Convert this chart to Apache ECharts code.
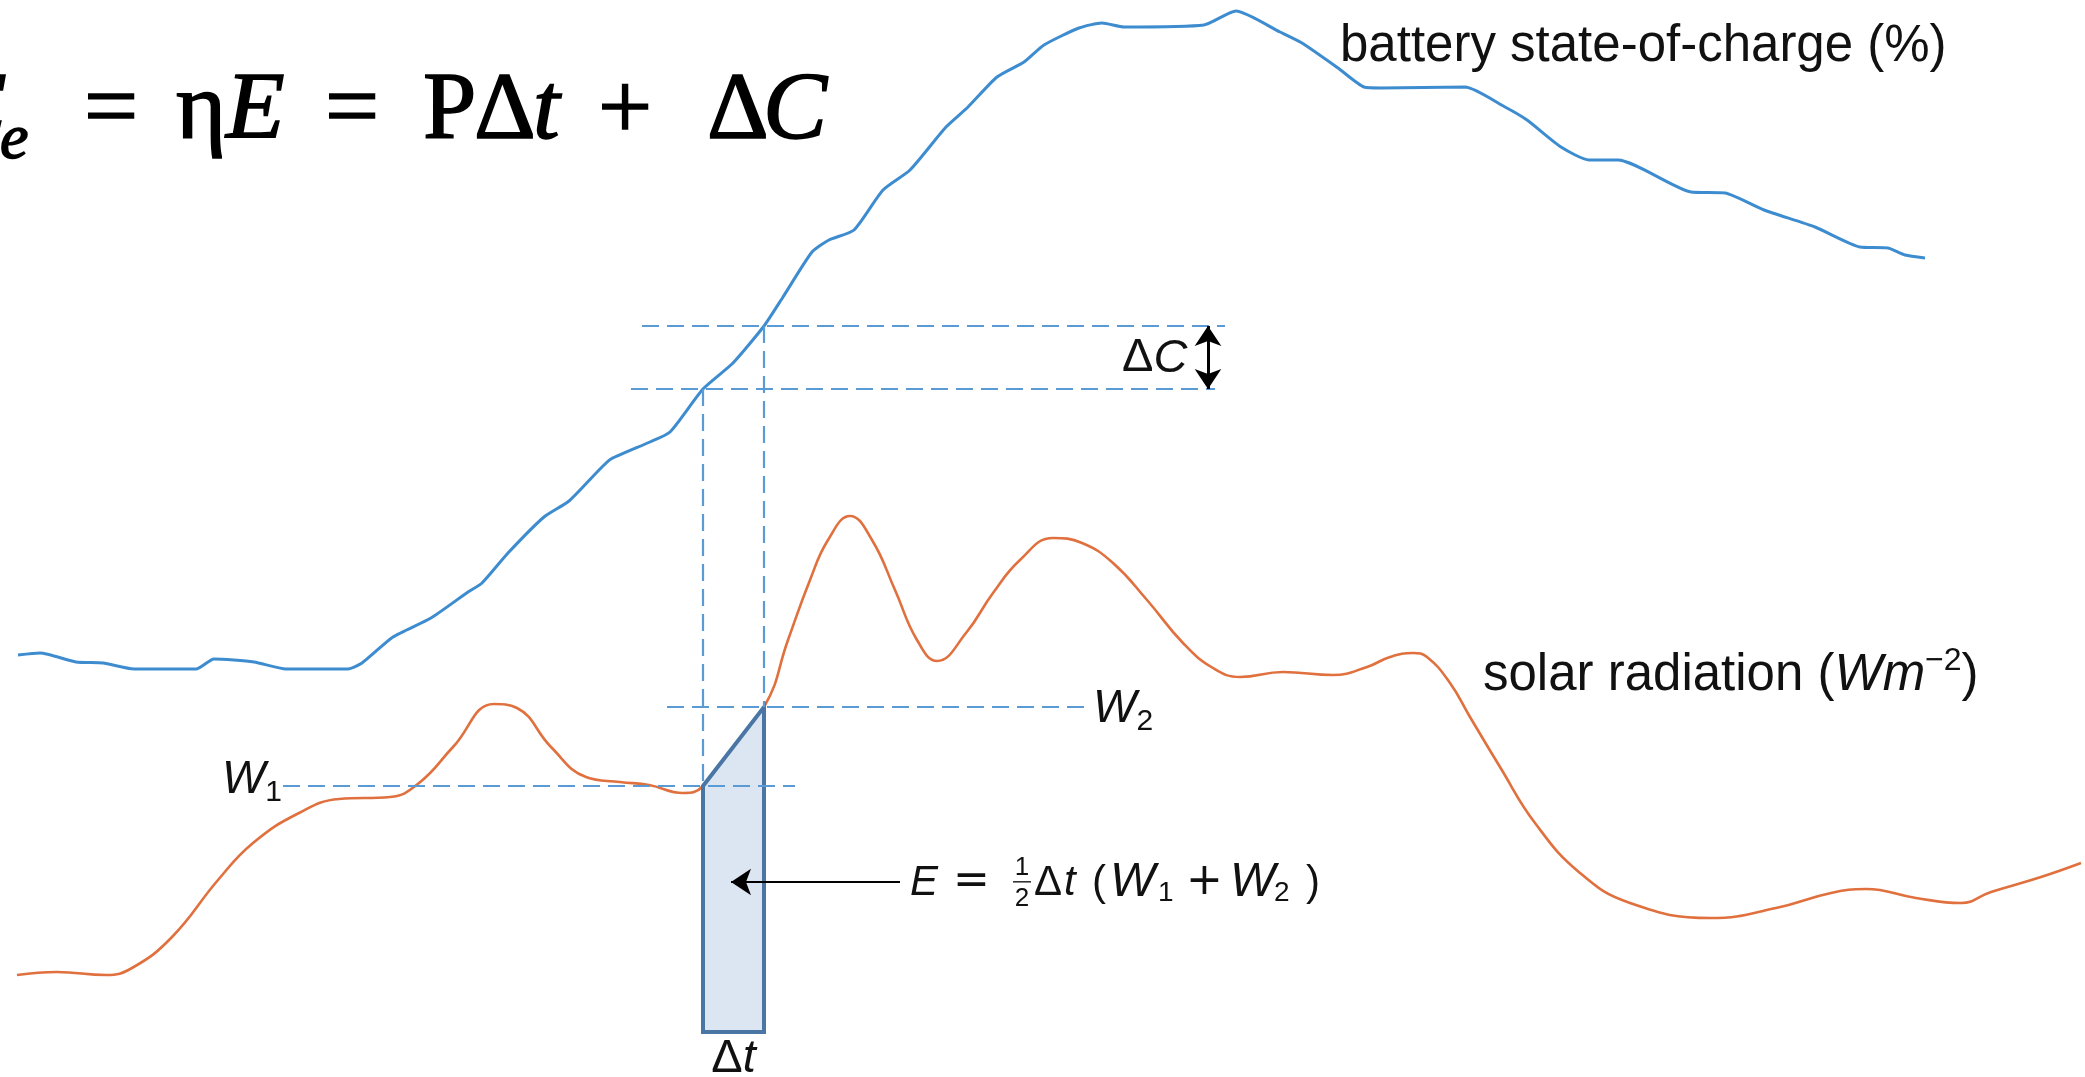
<!DOCTYPE html>
<html>
<head>
<meta charset="utf-8">
<title>Battery state-of-charge and solar radiation</title>
<script src="https://cdn.jsdelivr.net/npm/echarts/dist/echarts.min.js"></script>
<style>
  html, body { margin: 0; padding: 0; background: #ffffff; }
  #chart { width: 2085px; height: 1077px; }
</style>
</head>
<body>
<div id="chart"></div>
<script>
// ---- Data (time in arbitrary steps, level in arbitrary units) ----
const socTime = [18, 40, 76, 103, 134, 196, 214, 254, 286, 348, 362, 393, 431, 468, 482, 508, 544, 569, 600, 611,
  650, 670, 703, 733, 764, 783, 812, 829, 854, 883, 910, 946, 968, 997, 1024, 1044, 1079, 1102, 1124, 1204,
  1236, 1280, 1302, 1338, 1364, 1381, 1465, 1505, 1527, 1561, 1589, 1618, 1691, 1725, 1764, 1815, 1860, 1888, 1905, 1925];
const socLevel = [422, 424, 415, 414, 408, 408, 418, 415, 408, 408, 414, 440, 459, 485, 494, 524, 560, 576, 608, 618,
  635, 645, 688, 714, 751, 780, 825, 837, 847, 887, 907, 950, 970, 1000, 1015, 1032, 1049, 1054, 1050, 1052,
  1066, 1045, 1034, 1009, 990, 989, 990, 970, 957, 930, 917, 917, 885, 884, 867, 850, 830, 829, 822, 819];

const solarTime = [17, 57, 106, 132, 172, 218, 253, 299, 339, 390, 419, 453, 494, 517, 551, 586, 620, 649, 683, 703,
  764, 788, 810, 828, 850, 872, 895, 917, 937, 966, 993, 1020, 1053, 1082, 1113, 1147, 1183,
  1213, 1240, 1283, 1333, 1367, 1390, 1413, 1427, 1450, 1470, 1500, 1535, 1580, 1630, 1711, 1776, 1831, 1866, 1916, 1961,
  1991, 2041, 2081];
const solarLevel = [102, 105, 102, 109, 140, 197, 234, 264, 278, 280, 294, 330, 373, 369, 330, 300, 295, 292, 284, 291,
  370, 437, 497, 537, 561, 537, 487, 437, 416, 444, 484, 517, 539, 534, 514, 477, 434,
  409, 400, 405, 402, 410, 420, 424, 420, 394, 360, 310, 254, 204, 174, 159, 169, 184, 188, 179, 174,
  185, 200, 214];

// Integration step [t1, t2] and the floor of the energy trapezoid
const stepStart = 703;
const stepEnd = 764;
const energyFloor = 45;

// Readings taken from the curves at both ends of the step
const W1 = solarLevel[solarTime.indexOf(stepStart)];
const W2 = solarLevel[solarTime.indexOf(stepEnd)];
const C1 = socLevel[socTime.indexOf(stepStart)];
const C2 = socLevel[socTime.indexOf(stepEnd)];

// ---- Annotation layout ----
const w1GuideSpan = [283, 795];
const w2GuideSpan = [667, 1089];
const c1GuideSpan = [631, 1215];
const c2GuideSpan = [642, 1225];
const energyArrow = { from: 900, to: 731, level: 195 };
const deltaCArrowTime = 1208;

const zip = (xs, ys) => xs.map((x, i) => [x, ys[i]]);

const SANS = '"Liberation Sans", Arial, sans-serif';
const OPS = '"DejaVu Sans", "Liberation Sans", sans-serif';
const SERIF = '"Liberation Serif", "Times New Roman", serif';
const GUIDE = '#5B9BD5';

const chart = echarts.init(document.getElementById('chart'), null, { renderer: 'canvas' });

chart.setOption({
  animation: false,
  backgroundColor: '#ffffff',
  grid: { left: 0, right: 0, top: 0, bottom: 0 },
  xAxis: { type: 'value', min: 0, max: 2085, show: false },
  yAxis: { type: 'value', min: 0, max: 1077, show: false },
  series: [
    {
      name: 'battery state-of-charge',
      type: 'line',
      data: zip(socTime, socLevel),
      symbol: 'none',
      smooth: 0.2,
      lineStyle: { color: '#3D8CCF', width: 3 },
      z: 2
    },
    {
      name: 'solar radiation',
      type: 'line',
      data: zip(solarTime, solarLevel),
      symbol: 'none',
      smooth: 0.45,
      lineStyle: { color: '#E0703E', width: 2.6 },
      z: 2
    },
    {
      // energy collected over the step (trapezoid rule)
      name: 'energy',
      type: 'custom',
      clip: false,
      data: [[stepStart, W1]],
      renderItem: function (params, api) {
        const pts = [
          api.coord([stepStart, W1]),
          api.coord([stepEnd, W2]),
          api.coord([stepEnd, energyFloor]),
          api.coord([stepStart, energyFloor])
        ];
        return {
          type: 'polygon',
          shape: { points: pts },
          style: { fill: '#DCE6F2', stroke: '#4A76A6', lineWidth: 4, lineJoin: 'miter' }
        };
      },
      z: 3
    },
    {
      name: 'guides',
      type: 'lines',
      coordinateSystem: 'cartesian2d',
      symbol: 'none',
      lineStyle: { color: GUIDE, width: 2.2, type: [17, 8], opacity: 1 },
      data: [
        { coords: [[w1GuideSpan[0], W1], [w1GuideSpan[1], W1]] },
        { coords: [[w2GuideSpan[0], W2], [w2GuideSpan[1], W2]] },
        { coords: [[c1GuideSpan[0], C1], [c1GuideSpan[1], C1]] },
        { coords: [[c2GuideSpan[0], C2], [c2GuideSpan[1], C2]] },
        { coords: [[stepStart, C1], [stepStart, W1]] },
        { coords: [[stepEnd, C2], [stepEnd, W2]] }
      ],
      z: 4
    },
    {
      name: 'energy arrow',
      type: 'lines',
      coordinateSystem: 'cartesian2d',
      symbol: ['none', 'arrow'],
      symbolSize: 20,
      lineStyle: { color: '#000000', width: 2, opacity: 1 },
      data: [{ coords: [[energyArrow.from, energyArrow.level], [energyArrow.to, energyArrow.level]] }],
      z: 5
    },
    {
      name: 'charge arrow',
      type: 'lines',
      coordinateSystem: 'cartesian2d',
      symbol: ['arrow', 'arrow'],
      symbolSize: 20,
      lineStyle: { color: '#000000', width: 3, opacity: 1 },
      data: [{ coords: [[deltaCArrowTime, C2], [deltaCArrowTime, C1]] }],
      z: 5
    }
  ]
});

// ---- Text annotations ----
const px = (x, y) => chart.convertToPixel({ gridIndex: 0 }, [x, y]);

function txt(x, y, text, font, align, extra) {
  return {
    type: 'text', x: x, y: y, z: 10,
    style: Object.assign({ text: text, font: font, fill: '#111111', align: align || 'left', verticalAlign: 'middle' }, extra || {})
  };
}

const graphics = [];

// Series labels
graphics.push(txt(1340, 47, 'battery state-of-charge (%)', '51px ' + SANS));
graphics.push({
  type: 'text', x: 1483, y: 676, z: 10,
  style: {
    text: '{n|solar radiation (}{i|Wm}{s|\u22122}{n|)}',
    verticalAlign: 'middle', fill: '#111111',
    rich: {
      n: { fontSize: 51, fontFamily: SANS, lineHeight: 62 },
      i: { fontSize: 51, fontFamily: SANS, fontStyle: 'italic', lineHeight: 62 },
      s: { fontSize: 32, fontFamily: SANS, verticalAlign: 'top', lineHeight: 36 }
    }
  }
});

// W1 / W2 guide labels
const w1At = px(w1GuideSpan[0], W1);
const w2At = px(w2GuideSpan[1], W2);
const wRich = {
  w: { fontSize: 46, fontFamily: SANS, fontStyle: 'italic', lineHeight: 56 },
  s: { fontSize: 30, fontFamily: SANS, verticalAlign: 'bottom', lineHeight: 30 }
};
graphics.push({ type: 'text', x: w1At[0] - 1, y: w1At[1] - 6, z: 10,
  style: { text: '{w|W}{s|1}', align: 'right', verticalAlign: 'middle', fill: '#111111', rich: wRich } });
graphics.push({ type: 'text', x: w2At[0] + 4, y: w2At[1] + 2, z: 10,
  style: { text: '{w|W}{s|2}', align: 'left', verticalAlign: 'middle', fill: '#111111', rich: wRich } });

// Delta C beside the double arrow
const cMid = px(deltaCArrowTime, (C1 + C2) / 2);
graphics.push({ type: 'text', x: cMid[0] - 86, y: cMid[1] + 1, z: 10,
  style: { text: '{d|\u0394}{i|C}', verticalAlign: 'middle', fill: '#111111',
    rich: { d: { fontSize: 47, fontFamily: SANS }, i: { fontSize: 47, fontFamily: SANS, fontStyle: 'italic' } } } });

// Delta t under the step
const tMid = px((stepStart + stepEnd) / 2, energyFloor);
graphics.push({ type: 'text', x: tMid[0], y: tMid[1] + 27, z: 10,
  style: { text: '{d|\u0394}{i|t}', align: 'center', verticalAlign: 'middle', fill: '#111111',
    rich: { d: { fontSize: 47, fontFamily: SANS }, i: { fontSize: 47, fontFamily: SANS, fontStyle: 'italic' } } } });

// Energy formula at the tail of the arrow: E = 1/2 dt (W1 + W2)
const eAt = px(energyArrow.from, energyArrow.level);
const fx = eAt[0] + 12, fy = eAt[1] + 1;
const formulaFonts = {
  it: 'italic 42px ' + SANS,
  itW: 'italic 48px ' + SANS,
  up: '42px ' + SANS,
  op: '44px ' + OPS,
  sub: '28px ' + SANS
};
const formulaPieces = [
  ['E', -2, 'it'], ['=', 41, 'op'], ['\u0394', 122, 'up'], ['t', 152, 'it'], ['(', 180, 'up'],
  ['W', 198, 'itW'], ['1', 246, 'sub'], ['+', 274, 'op'], ['W', 318, 'itW'], ['2', 362, 'sub'], [')', 394, 'up']
];
formulaPieces.forEach(function (p) {
  const dy = p[2] === 'sub' ? 10 : 0;
  graphics.push(txt(fx + p[1], fy + dy, p[0], formulaFonts[p[2]], 'left'));
});
graphics.push(txt(fx + 110, fy - 15, '1', '26px ' + SANS, 'center'));
graphics.push({ type: 'rect', z: 10, shape: { x: fx + 101, y: fy - 2, width: 18, height: 1.6 }, style: { fill: '#333333' } });
graphics.push(txt(fx + 110, fy + 16, '2', '26px ' + SANS, 'center'));

// Energy balance headline
const headline = [
  ['E', -52, 'it'], ['e', 0, 'sub'], ['=', 84, 'up'], ['\u03b7', 176, 'up'], ['E', 226, 'it'],
  ['=', 325, 'up'], ['P', 423, 'up'], ['\u0394', 474, 'up'], ['t', 533, 'it'], ['+', 598, 'up'],
  ['\u0394', 707, 'up'], ['C', 763, 'it']
];
headline.forEach(function (h) {
  const sub = h[2] === 'sub';
  const font = (h[2] === 'it' || sub ? 'italic ' : '') + (sub ? '64px ' : '96px ') + SERIF;
  graphics.push(txt(h[1], sub ? 141 : 113, h[0], font, 'left',
    { fill: '#000000', stroke: '#000000', lineWidth: 1.6 }));
});

chart.setOption({ graphic: graphics });
</script>
</body>
</html>
